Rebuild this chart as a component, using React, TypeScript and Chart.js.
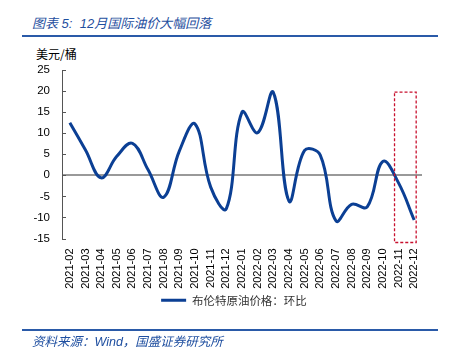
import React, { useEffect, useRef } from "react";
import { Chart, registerables } from "chart.js";

Chart.register(...registerables);

const categories = [
  "2021-02", "2021-03", "2021-04", "2021-05", "2021-06", "2021-07", "2021-08",
  "2021-09", "2021-10", "2021-11", "2021-12", "2022-01", "2022-02", "2022-03",
  "2022-04", "2022-05", "2022-06", "2022-07", "2022-08", "2022-09", "2022-10",
  "2022-11", "2022-12",
];
const brentMoM = [
  12.5, 6.0, -0.6, 4.5, 7.6, 1.3, -5.2, 5.8, 12.2, -2.8, -7.9, 15.0, 10.1, 19.7,
  -6.1, 5.9, 4.8, -10.8, -6.9, -7.5, 3.3, -1.8, -10.6,
];
const seriesName = "布伦特原油价格：环比";
const yMin = -15;
const yMax = 25;
const yStep = 5;
const highlightFrom = "2022-11";
const highlightTo = "2022-12";

const BLUE = "#0b3f94";

const extrasPlugin = {
  id: "extras",
  afterLayout(chart: any) {
    const lg = chart.legend;
    if (lg) {
      lg.left += 23;
      lg.right += 23;
    }
  },
  afterDatasetsDraw(chart: any) {
    const { ctx, scales } = chart;
    const y = scales.y;
    const x = scales.x;
    ctx.save();
    ctx.strokeStyle = "#555";
    ctx.lineWidth = 1;
    y.ticks.forEach((t: any) => {
      const py = Math.round(y.getPixelForValue(t.value)) + 0.5;
      ctx.beginPath();
      ctx.moveTo(y.right, py);
      ctx.lineTo(y.right + 4, py);
      ctx.stroke();
    });
    const i1 = categories.indexOf(highlightFrom);
    const i2 = categories.indexOf(highlightTo);
    const left = x.getPixelForValue(i1) - 4;
    const right = x.getPixelForValue(i2) + 2;
    const top = y.getPixelForValue(20) + 1;
    const bottom = y.getPixelForValue(yMin) + 4;
    ctx.strokeStyle = "#c8102e";
    ctx.lineWidth = 1.3;
    ctx.setLineDash([3, 2]);
    ctx.strokeRect(left, top, right - left, bottom - top);
    ctx.restore();
  },
};

export default function App() {
  const ref = useRef<HTMLCanvasElement>(null);
  useEffect(() => {
    if (!ref.current) return;
    const chart = new Chart(ref.current, {
      type: "line",
      data: {
        labels: categories,
        datasets: [
          {
            label: seriesName,
            data: brentMoM,
            borderColor: BLUE,
            backgroundColor: BLUE,
            borderWidth: 3,
            pointRadius: 0,
            tension: 0.4,
            fill: false,
          },
        ],
      },
      options: {
        responsive: false,
        animation: false,
        layout: { padding: { left: 0, right: 29, top: 70, bottom: 38 } },
        plugins: {
          legend: {
            display: true,
            position: "bottom",
            labels: {
              boxWidth: 25,
              boxHeight: 0,
              padding: 4,
              color: "#333",
              font: { family: "'Noto Sans CJK SC', sans-serif", size: 11.5 },
            },
          },
          tooltip: { enabled: false },
        },
        scales: {
          x: {
            offset: true,
            grid: { display: false },
            border: { display: false },
            ticks: {
              autoSkip: false,
              minRotation: 90,
              maxRotation: 90,
              padding: 2,
              color: "#000",
              font: { family: "'Liberation Sans', Arial, sans-serif", size: 11 },
            },
            afterFit(scale: any) {
              scale.height = 52;
            },
          },
          y: {
            min: yMin,
            max: yMax,
            ticks: {
              stepSize: yStep,
              padding: 12,
              color: "#000",
              font: { family: "'Liberation Sans', Arial, sans-serif", size: 11.5 },
            },
            border: { display: true, color: "#555", width: 1 },
            grid: {
              drawTicks: false,
              color: (c: any) => (c.tick && c.tick.value === 0 ? "#999" : "rgba(0,0,0,0)"),
              lineWidth: (c: any) => (c.tick && c.tick.value === 0 ? 2 : 0),
            },
            afterFit(scale: any) {
              scale.width = 62;
            },
          },
        },
      },
      plugins: [extrasPlugin],
    });
    return () => chart.destroy();
  }, []);

  return (
    <div style={{ position: "absolute", left: 0, top: 0, width: 451, height: 354, background: "#fff", overflow: "hidden" }}>
      <div
        style={{
          position: "absolute",
          left: 32,
          top: 13,
          fontFamily: "'Liberation Sans', 'Noto Sans CJK SC', sans-serif",
          fontStyle: "italic",
          fontSize: 13,
          color: "#1f4fa0",
          whiteSpace: "nowrap",
        }}
      >
        图表 5:&nbsp; 12月国际油价大幅回落
      </div>
      <div style={{ position: "absolute", left: 22, top: 35, width: 416, height: 2, background: "#2a5aa8" }} />
      <div
        style={{
          position: "absolute",
          left: 36,
          top: 45,
          fontFamily: "'Noto Sans CJK SC', sans-serif",
          fontSize: 12,
          color: "#000",
          whiteSpace: "nowrap",
        }}
      >
        美元/桶
      </div>
      <canvas ref={ref} width={451} height={354} style={{ position: "absolute", left: 0, top: 0 }} />
      <div style={{ position: "absolute", left: 22, top: 329, width: 416, height: 1.5, background: "#2a5aa8" }} />
      <div
        style={{
          position: "absolute",
          left: 32,
          top: 331,
          fontFamily: "'Liberation Sans', 'Noto Sans CJK SC', sans-serif",
          fontStyle: "italic",
          fontSize: 12.5,
          color: "#1f4fa0",
          whiteSpace: "nowrap",
        }}
      >
        资料来源：Wind，国盛证券研究所
      </div>
    </div>
  );
}
